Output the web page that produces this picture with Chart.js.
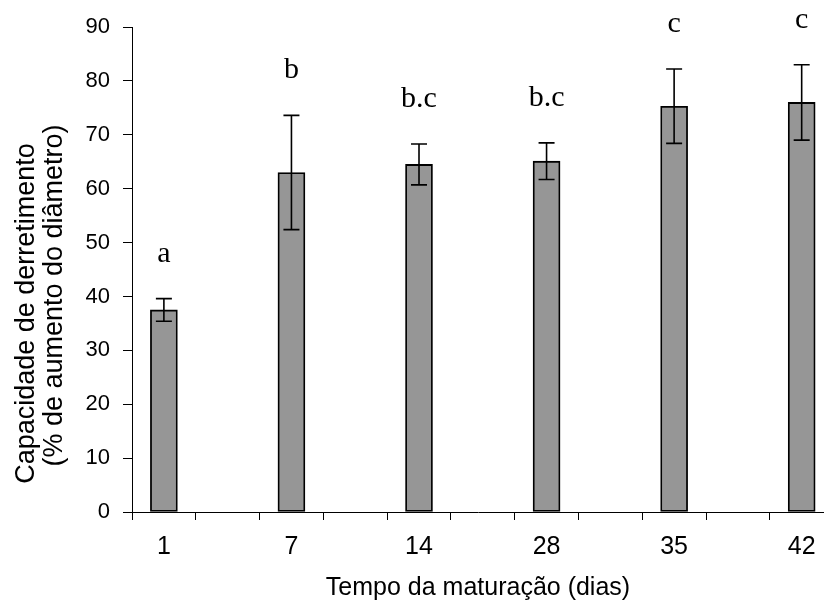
<!DOCTYPE html>
<html><head><meta charset="utf-8">
<script src="https://cdn.jsdelivr.net/npm/chart.js@4/dist/chart.umd.min.js"></script>
<style>html,body{margin:0;padding:0;background:#fff;overflow:hidden}canvas{display:block}</style>
</head><body>
<canvas id="c" width="824" height="603"></canvas>
<script>
// ---- data ----
const days = ['1', '7', '14', '28', '35', '42'];
const meltCapacity = [37.5, 63.0, 64.5, 65.1, 75.3, 76.0];
const stdError = [2.1, 10.6, 3.8, 3.4, 6.9, 7.0];
const groupLetters = ['a', 'b', 'b.c', 'b.c', 'c', 'c'];
const yTickValues = [0, 10, 20, 30, 40, 50, 60, 70, 80, 90];
const yTitleLines = ['Capacidade de derretimento', '(% de aumento do diâmetro)'];
const xTitle = 'Tempo da maturação (dias)';

// each day sits in every second slot of the category axis
const slotOf = i => i * 2;
const slotCount = 11;

const barData = meltCapacity.map((v, i) => ({ x: slotOf(i), y: v }));

const errorBarPlugin = {
  id: 'errorBars',
  afterDatasetsDraw(chart) {
    const ctx = chart.ctx;
    const ys = chart.scales.y;
    const meta = chart.getDatasetMeta(0);
    ctx.save();
    ctx.strokeStyle = '#000';
    ctx.lineWidth = 1.6;
    meta.data.forEach((el, i) => {
      const x = el.x;
      const top = ys.getPixelForValue(meltCapacity[i] + stdError[i]);
      const bot = ys.getPixelForValue(meltCapacity[i] - stdError[i]);
      ctx.beginPath();
      ctx.moveTo(x, top); ctx.lineTo(x, bot);
      ctx.moveTo(x - 8, top); ctx.lineTo(x + 8, top);
      ctx.moveTo(x - 8, bot); ctx.lineTo(x + 8, bot);
      ctx.stroke();
      ctx.fillStyle = '#000';
      ctx.font = '30px "Liberation Serif", "Times New Roman", serif';
      ctx.textAlign = 'center';
      ctx.textBaseline = 'alphabetic';
      ctx.fillText(groupLetters[i], x, top - 37);
    });
    ctx.restore();
  }
};

// y-axis title drawn as two rotated lines, placed like the reference
const yTitlePlugin = {
  id: 'yTitle',
  afterDraw(chart) {
    const ctx = chart.ctx;
    const mid = (chart.chartArea.top + chart.chartArea.bottom) / 2;
    const lines = [{ x: 27, y: mid + 44 }, { x: 55, y: mid + 26 }];
    ctx.save();
    ctx.fillStyle = '#000';
    ctx.font = '27px "Liberation Sans", Arial, sans-serif';
    ctx.textAlign = 'center';
    ctx.textBaseline = 'middle';
    yTitleLines.forEach((t, i) => {
      ctx.save();
      ctx.translate(lines[i].x, lines[i].y);
      ctx.rotate(-Math.PI / 2);
      ctx.fillText(t, 0, 0);
      ctx.restore();
    });
    ctx.restore();
  }
};

new Chart(document.getElementById('c'), {
  type: 'bar',
  data: {
    datasets: [{
      data: barData,
      backgroundColor: '#969696',
      borderColor: '#000',
      borderWidth: 1.8,
      borderSkipped: false,
      barThickness: 27
    }]
  },
  options: {
    responsive: false,
    animation: false,
    events: [],
    layout: { padding: { top: 27, left: 0, right: 0, bottom: 0 } },
    plugins: { legend: { display: false }, tooltip: { enabled: false } },
    scales: {
      x: {
        type: 'linear',
        offset: false,
        min: -0.5,
        max: 10.35,
        afterBuildTicks: s => { s.ticks = Array.from({ length: slotCount }, (_, i) => ({ value: i })); },
        afterFit: s => { s.height = 91; s.paddingLeft = 0; s.paddingRight = 0; },
        grid: { offset: true, drawOnChartArea: false, drawTicks: true, tickLength: 8, color: '#000', lineWidth: 1 },
        border: { display: true, color: '#000', width: 1 },
        ticks: {
          autoSkip: false, maxRotation: 0, padding: 12,
          color: '#000',
          font: { family: '"Liberation Sans", Arial, sans-serif', size: 25 },
          callback: v => (v % 2 === 0 ? days[v / 2] : '')
        },
        title: {
          display: true, text: xTitle, color: '#000',
          font: { family: '"Liberation Sans", Arial, sans-serif', size: 25, lineHeight: 1.2 },
          padding: { top: 0, bottom: 0 }
        }
      },
      y: {
        min: 0, max: 90,
        afterBuildTicks: s => { s.ticks = yTickValues.map(v => ({ value: v })); },
        afterFit: s => { s.width = 132; },
        grid: { drawOnChartArea: false, drawTicks: true, tickLength: 9, color: '#000', lineWidth: 1 },
        border: { display: true, color: '#000', width: 1 },
        ticks: {
          padding: 13, color: '#000',
          font: { family: '"Liberation Sans", Arial, sans-serif', size: 22 }
        },
        title: { display: false }
      }
    }
  },
  plugins: [errorBarPlugin, yTitlePlugin]
});
</script>
</body></html>
